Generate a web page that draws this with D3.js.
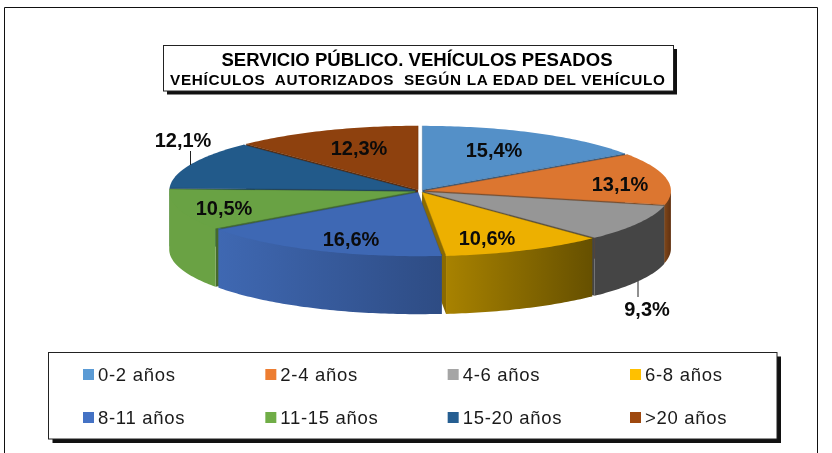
<!DOCTYPE html>
<html><head><meta charset="utf-8">
<script src="https://cdn.jsdelivr.net/npm/d3@7"></script>
<style>html,body{margin:0;background:#fff}svg{display:block;filter:blur(0.35px)}text{font-family:"Liberation Sans",Arial,sans-serif}</style>
</head><body><svg id="c" width="832" height="453"></svg>
<script>
const categories=["0-2 años","2-4 años","4-6 años","6-8 años","8-11 años","11-15 años","15-20 años",">20 años"];
const values=[15.4,13.1,9.3,10.6,16.6,10.5,12.1,12.3];
const valueLabels=["15,4%","13,1%","9,3%","10,6%","16,6%","10,5%","12,1%","12,3%"];
const legendColors=["#5b9bd5","#ed7d31","#a5a5a5","#ffc000","#4472c4","#70ad47","#255e91","#9e480e"];
const topColors=["#5490c8","#dc7630","#969696","#edb000","#3e68b4","#69a244","#225a8a","#8e410e"];
const wallLeft=["#5490c8","#7d4519","#454545","#a88200","#3f68b2","#6aa244","#225a8a","#8e410e"];
const wallRight=["#5490c8","#5f3010","#454545","#665000","#2e4c84","#6aa244","#225a8a","#8e410e"];
const faceColors=["#35597c","#7d4519","#454545","#8a6a00","#2e4c84","#46692c","#173d5e","#5f2c0a"];
const titleLines=["SERVICIO PÚBLICO. VEHÍCULOS PESADOS","VEHÍCULOS  AUTORIZADOS  SEGÚN LA EDAD DEL VEHÍCULO"];

// layout
const cx=420,cy=191,rx=246,ry=64,depth=58,explode=5;
const labelPos=[[494,150],[620,184],[647,309],[487,238],[351,239],[224,208],[183,140],[359,148]];
const leaders=[[638,281,638,297],[190.5,151,190.5,165]];

const svg=d3.select("#c"),defs=svg.append("defs");
const x=d3.scaleLinear().domain([-1,1]).range([cx-rx,cx+rx]);
const y=d3.scaleLinear().domain([-1,1]).range([cy-ry,cy+ry]);
const arcs=d3.pie().sort(null)(values);
const exX=explode/rx, exY=explode*0.26/ry;
const line=d3.line();
function pt(a,d,r=1,dz=0){const m=(d.startAngle+d.endAngle)/2;
  return [x(r*Math.sin(a)+exX*Math.sin(m)), y(-r*Math.cos(a)-exY*Math.cos(m))+dz];}
function rim(d,a0,a1,dz=0){const n=Math.max(2,Math.ceil((a1-a0)*60));
  return d3.range(n+1).map(i=>pt(a0+(a1-a0)*i/n,d,1,dz));}

// frame
svg.append("path").attr("d",line([[4.5,453],[4.5,7.5],[817.5,7.5],[817.5,453]])).attr("fill","none").attr("stroke","#111").attr("stroke-width",1);

const g=svg.append("g");
// radial cut faces that look at the viewer, back ones first
const faces=[];
arcs.forEach((d,i)=>{
  if(d.endAngle<Math.PI) faces.push([d,d.endAngle,i]);
  if(d.startAngle>Math.PI) faces.push([d,d.startAngle,i]);
});
faces.sort((p,q)=>-Math.cos(p[1])+Math.cos(q[1]));
faces.forEach(([d,a,i])=>{
  const o=pt(a,d,0),r=pt(a,d,1);
  g.append("path").attr("d",line([o,r,[r[0],r[1]+depth],[o[0],o[1]+depth]])+"Z").attr("fill",faceColors[i]);
});
// outer walls; the top edge is pulled up a little under the top face so no seam shows
arcs.forEach((d,i)=>{
  const a0=Math.max(d.startAngle,Math.PI/2),a1=Math.min(d.endAngle,Math.PI*1.5);
  if(a1<=a0) return;
  const top=rim(d,a0,a1,-2),bot=rim(d,a0,a1,depth).reverse();
  const id="w"+i,xs=top.map(p=>p[0]);
  const gr=defs.append("linearGradient").attr("id",id).attr("gradientUnits","userSpaceOnUse")
    .attr("x1",d3.min(xs)).attr("x2",d3.max(xs)).attr("y1",0).attr("y2",0);
  gr.append("stop").attr("offset",0).attr("stop-color",wallLeft[i]);
  gr.append("stop").attr("offset",1).attr("stop-color",wallRight[i]);
  g.append("path").attr("d",line(top.concat(bot))+"Z").attr("fill",`url(#${id})`);
});
// top faces
arcs.forEach((d,i)=>{
  g.append("path").attr("d",line([pt(d.startAngle,d,0)].concat(rim(d,d.startAngle,d.endAngle)))+"Z").attr("fill",topColors[i]);
});
// radial edges on the top faces
arcs.forEach((d,i)=>{
  [d.startAngle,d.endAngle].forEach(a=>{
    g.append("path").attr("d",line([pt(a,d,0),pt(a,d,1)])).attr("fill","none")
     .attr("stroke",d3.color(topColors[i]).darker(0.9)).attr("stroke-width",0.6).attr("stroke-opacity",0.7);
  });
});
// leader lines
leaders.forEach(l=>svg.append("line").attr("x1",l[0]).attr("y1",l[1]).attr("x2",l[2]).attr("y2",l[3]).attr("stroke","#222").attr("stroke-width",1));
// value labels
valueLabels.forEach((t,i)=>svg.append("text").attr("x",labelPos[i][0]).attr("y",labelPos[i][1]).attr("dy","0.35em")
  .attr("text-anchor","middle").attr("font-weight","bold").attr("font-size",20).attr("fill","#0b0b0b").text(t));

function box(x0,y0,x1,y1,sh){
  svg.append("rect").attr("x",x0+sh).attr("y",y0+sh).attr("width",x1-x0).attr("height",y1-y0).attr("fill","#111");
  svg.append("rect").attr("x",x0).attr("y",y0).attr("width",x1-x0).attr("height",y1-y0).attr("fill","#fff").attr("stroke","#222").attr("stroke-width",1);
}
// title
box(163.5,45.5,673.5,91,3.5);
svg.append("text").attr("x",417).attr("y",66).attr("text-anchor","middle").attr("font-weight","bold").attr("font-size",18.5).attr("textLength",391).attr("lengthAdjust","spacingAndGlyphs").text(titleLines[0]);
svg.append("text").attr("x",417.5).attr("y",85).attr("text-anchor","middle").attr("font-weight","bold").attr("font-size",15.3).style("white-space","pre").attr("textLength",495).text(titleLines[1]);

// legend
box(48.5,352.5,777,439,4);
const colX=d3.scalePoint().domain(d3.range(4)).range([83,630]);
const rowY=d3.scalePoint().domain([0,1]).range([369,412]);
categories.forEach((c,i)=>{
  const cc=i%4,r=Math.floor(i/4);
  svg.append("rect").attr("x",colX(cc)).attr("y",rowY(r)).attr("width",11).attr("height",11).attr("fill",legendColors[i]);
  svg.append("text").attr("x",colX(cc)+15).attr("y",rowY(r)+12).attr("font-size",18.5).attr("letter-spacing",0.7).attr("fill","#1a1a1a").text(c);
});
</script></body></html>
